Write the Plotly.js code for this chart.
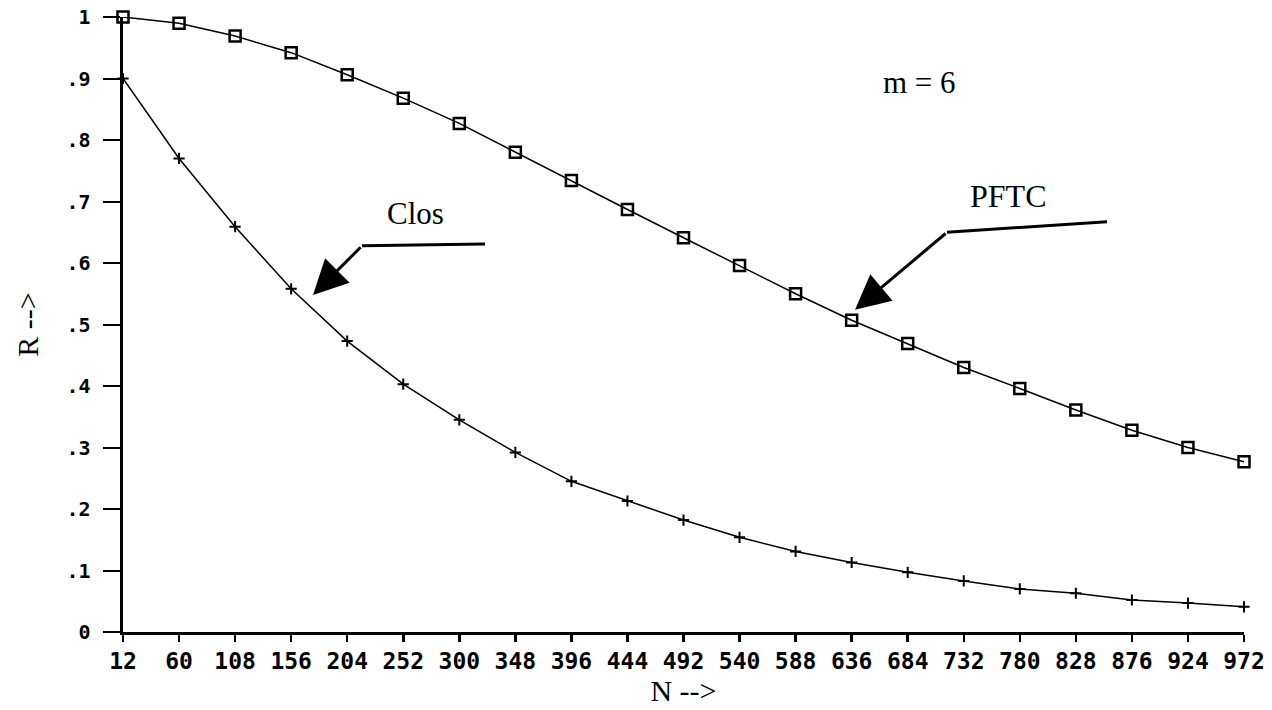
<!DOCTYPE html>
<html>
<head>
<meta charset="utf-8">
<script src="https://cdn.plot.ly/plotly-3.0.1.min.js"></script>
<style>html,body{margin:0;padding:0;background:#fff;}#chart{width:1272px;height:710px;}</style>
</head>
<body>
<div id="chart"></div>
<script>
// Data
const N = [12, 60, 108, 156, 204, 252, 300, 348, 396, 444, 492, 540, 588, 636, 684, 732, 780, 828, 876, 924, 972];
const pftc = [1.000, 0.990, 0.969, 0.942, 0.906, 0.868, 0.827, 0.780, 0.734, 0.687, 0.641, 0.596, 0.550, 0.507, 0.469, 0.430, 0.396, 0.361, 0.328, 0.300, 0.277];
const clos = [0.900, 0.770, 0.659, 0.558, 0.473, 0.403, 0.345, 0.292, 0.245, 0.213, 0.182, 0.154, 0.131, 0.113, 0.097, 0.083, 0.070, 0.063, 0.052, 0.047, 0.041];
const yTickVals = [0, 0.1, 0.2, 0.3, 0.4, 0.5, 0.6, 0.7, 0.8, 0.9, 1];
const yTickText = ['0', '.1', '.2', '.3', '.4', '.5', '.6', '.7', '.8', '.9', '1'];
const xTickText = N.map(String);

const monoFont = 'DejaVu Sans Mono, monospace';
const serifFont = 'Liberation Serif, Times New Roman, serif';

const traces = [
  {
    x: N, y: pftc, name: 'PFTC', type: 'scatter', mode: 'lines+markers',
    line: {color: '#000', width: 1.5},
    marker: {symbol: 'square-open', size: 11, color: '#000', line: {width: 2.5, color: '#000'}},
    cliponaxis: false
  },
  {
    x: N, y: clos, name: 'Clos', type: 'scatter', mode: 'lines+markers',
    line: {color: '#000', width: 1.5},
    marker: {symbol: 'cross-thin-open', size: 8, color: '#000', line: {width: 2, color: '#000'}},
    cliponaxis: false
  }
];

const layout = {
  width: 1272, height: 710,
  paper_bgcolor: '#fff', plot_bgcolor: '#fff',
  showlegend: false,
  margin: {l: 123, r: 28, t: 17, b: 78},
  xaxis: {
    range: [12, 972], tickmode: 'array', tickvals: N, ticktext: xTickText,
    showgrid: false, zeroline: false, showline: true, linecolor: '#000', linewidth: 2.5,
    ticks: 'outside', ticklen: 7, tickwidth: 2.5, tickcolor: '#000',
    tickfont: {family: monoFont, size: 23, color: '#000', weight: 'bold'},
    title: {text: 'N -->', font: {family: serifFont, size: 30, color: '#000'}, standoff: 7},
    fixedrange: true
  },
  yaxis: {
    range: [0, 1], tickmode: 'array', tickvals: yTickVals, ticktext: yTickText,
    showgrid: false, zeroline: false, showline: true, linecolor: '#000', linewidth: 3.5,
    ticks: 'outside', ticklen: 17, tickwidth: 2, tickcolor: '#000',
    ticklabelstandoff: 8,
    tickfont: {family: monoFont, size: 20, color: '#000', weight: 'bold'},
    title: {text: 'R -->', font: {family: serifFont, size: 30, color: '#000'}, standoff: 20},
    fixedrange: true
  },
  shapes: [
    {type: 'line', xref: 'x', yref: 'y', x0: 216.7, y0: 0.628, x1: 322, y1: 0.631, line: {color: '#000', width: 3}},
    {type: 'line', xref: 'x', yref: 'y', x0: 717.7, y0: 0.650, x1: 854.7, y1: 0.667, line: {color: '#000', width: 3}}
  ],
  annotations: [
    {x: 174.7, y: 0.548, xref: 'x', yref: 'y', ax: 216.7, ay: 0.628, axref: 'x', ayref: 'y',
     text: '', showarrow: true, arrowhead: 2, arrowsize: 2.3, arrowwidth: 3, arrowcolor: '#000'},
    {x: 638.9, y: 0.524, xref: 'x', yref: 'y', ax: 717.7, ay: 0.650, axref: 'x', ayref: 'y',
     text: '', showarrow: true, arrowhead: 2, arrowsize: 2.3, arrowwidth: 3, arrowcolor: '#000'},
    {x: 262.9, y: 0.681, xref: 'x', yref: 'y', text: 'Clos', showarrow: false, xanchor: 'center', yanchor: 'middle',
     font: {family: serifFont, size: 31, color: '#000'}},
    {x: 770, y: 0.709, xref: 'x', yref: 'y', text: 'PFTC', showarrow: false, xanchor: 'center', yanchor: 'middle',
     font: {family: serifFont, size: 32, color: '#000'}},
    {x: 693.7, y: 0.894, xref: 'x', yref: 'y', text: 'm = 6', showarrow: false, xanchor: 'center', yanchor: 'middle',
     font: {family: serifFont, size: 31, color: '#000'}}
  ]
};

Plotly.newPlot('chart', traces, layout, {displayModeBar: false, staticPlot: true});
</script>
</body>
</html>
